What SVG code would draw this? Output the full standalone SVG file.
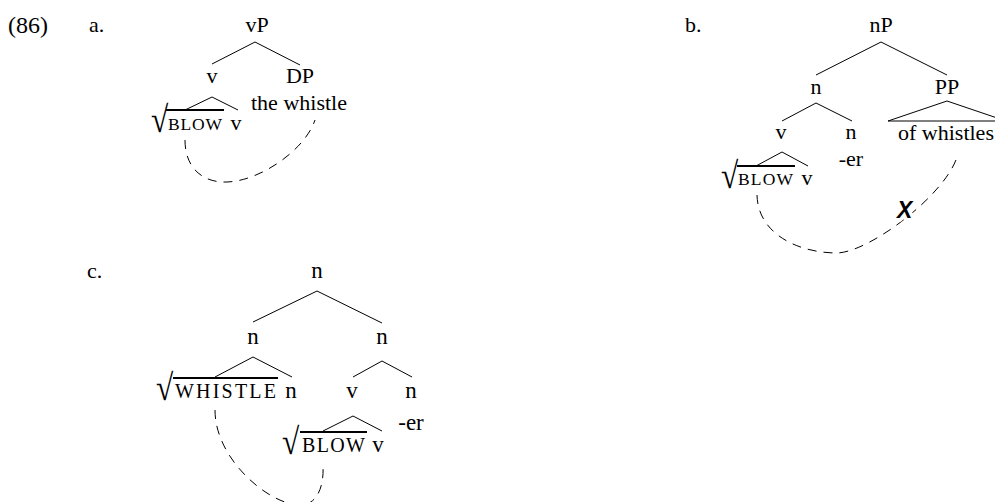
<svg xmlns="http://www.w3.org/2000/svg" width="995" height="502" viewBox="0 0 995 502">
<style>
text{font-family:"Liberation Serif","Times New Roman",serif;fill:#000}
.t{font-size:22px}
.tc{font-size:23px}
.m{text-anchor:middle}
.sc{font-size:17.5px}
.scc{font-size:20px}
.rt{font-size:37px}
.e{stroke:#000;stroke-width:1;fill:none}
.ov{stroke:#000;stroke-width:2;fill:none}
.d{stroke:#000;stroke-width:1;fill:none;stroke-dasharray:9,7}
.x{font-family:"Liberation Sans",Arial,sans-serif;font-weight:bold;font-style:italic;font-size:23px;stroke:#fff;stroke-width:7;paint-order:stroke}
</style>
<rect width="995" height="502" fill="#fff"/>
<g id="labels">
<text class="t" x="8" y="33" style="font-size:24px">(86)</text>
<text class="t" x="89" y="32">a.</text>
<text class="t" x="685" y="32">b.</text>
<text class="t" x="87" y="278">c.</text>
</g>
<g id="connectors">
<path class="e" d="M255,42L212,64M255,42L300,65M212,97L185,110M212,97L238,110"/>
<path class="ov" d="M166,110H224"/>
<path class="e" d="M881,42L816,75M881,42L947,75M816,103L782,121M816,103L852,121M782,152L756,166M782,152L808,166"/>
<path class="e" d="M888,121L947,101L1006,121Z"/>
<path class="ov" d="M737,166H795"/>
<path class="e" d="M317,291L253,322M317,291L382,323M253,357L215,377M253,357L292,377M382,361L353,377M382,361L412,377M353,416L323,431M353,416L382,431"/>
<path class="ov" d="M173,378H278M300,432H367"/>
<path class="d" d="M185,140C185,170 205,183 227,182C260,181 305,150 315,120"/>
<path class="d" d="M757,195C758,235 800,253 837,253C870,252 945,195 957,157"/>
<path class="d" d="M215,410C215,460 270,505 300,505C318,505 324,485 323,466"/>
</g>
<g id="tree-a">
<g id="a-vP"><text class="t m" x="257" y="32">vP</text></g>
<g id="a-v"><text class="t m" x="212" y="83">v</text></g>
<g id="a-DP"><text class="t m" x="300" y="83">DP</text><text class="t" x="251" y="110">the whistle</text></g>
<g id="a-root"><text class="rt" transform="translate(151,132) scale(0.85,1)">√</text><text class="sc" x="168" y="130" textLength="54" lengthAdjust="spacing">BLOW</text></g>
<g id="a-v2"><text class="t m" x="236" y="130">v</text></g>
</g>
<g id="tree-b">
<g id="b-nP"><text class="t m" x="881" y="32">nP</text></g>
<g id="b-n"><text class="t m" x="816" y="94">n</text></g>
<g id="b-PP"><text class="t m" x="947" y="94">PP</text><text class="t" x="898" y="140">of whistles</text></g>
<g id="b-v"><text class="t m" x="781" y="139">v</text></g>
<g id="b-n2"><text class="t m" x="851" y="139">n</text><text class="t m" x="851" y="166">-er</text></g>
<g id="b-root"><text class="rt" transform="translate(721,188) scale(0.85,1)">√</text><text class="sc" x="738" y="185" textLength="55" lengthAdjust="spacing">BLOW</text></g>
<g id="b-v2"><text class="t m" x="807" y="185">v</text></g>
<g id="b-x"><text class="x" x="897" y="218">X</text></g>
</g>
<g id="tree-c">
<g id="c-n"><text class="tc m" x="317" y="278">n</text></g>
<g id="c-nL"><text class="tc m" x="253" y="344">n</text></g>
<g id="c-nR"><text class="tc m" x="382" y="344">n</text></g>
<g id="c-root1"><text class="rt" transform="translate(156,400) scale(0.85,1)">√</text><text class="scc" x="175" y="398" textLength="101" lengthAdjust="spacing">WHISTLE</text></g>
<g id="c-n3"><text class="tc m" x="291" y="398">n</text></g>
<g id="c-v"><text class="tc m" x="352" y="398">v</text></g>
<g id="c-n4"><text class="tc m" x="411" y="398">n</text><text class="tc m" x="411" y="430">-er</text></g>
<g id="c-root2"><text class="rt" transform="translate(282,454) scale(0.85,1)">√</text><text class="scc" x="302" y="452" textLength="63" lengthAdjust="spacing">BLOW</text></g>
<g id="c-v2"><text class="tc m" x="378" y="452">v</text></g>
</g>
</svg>
